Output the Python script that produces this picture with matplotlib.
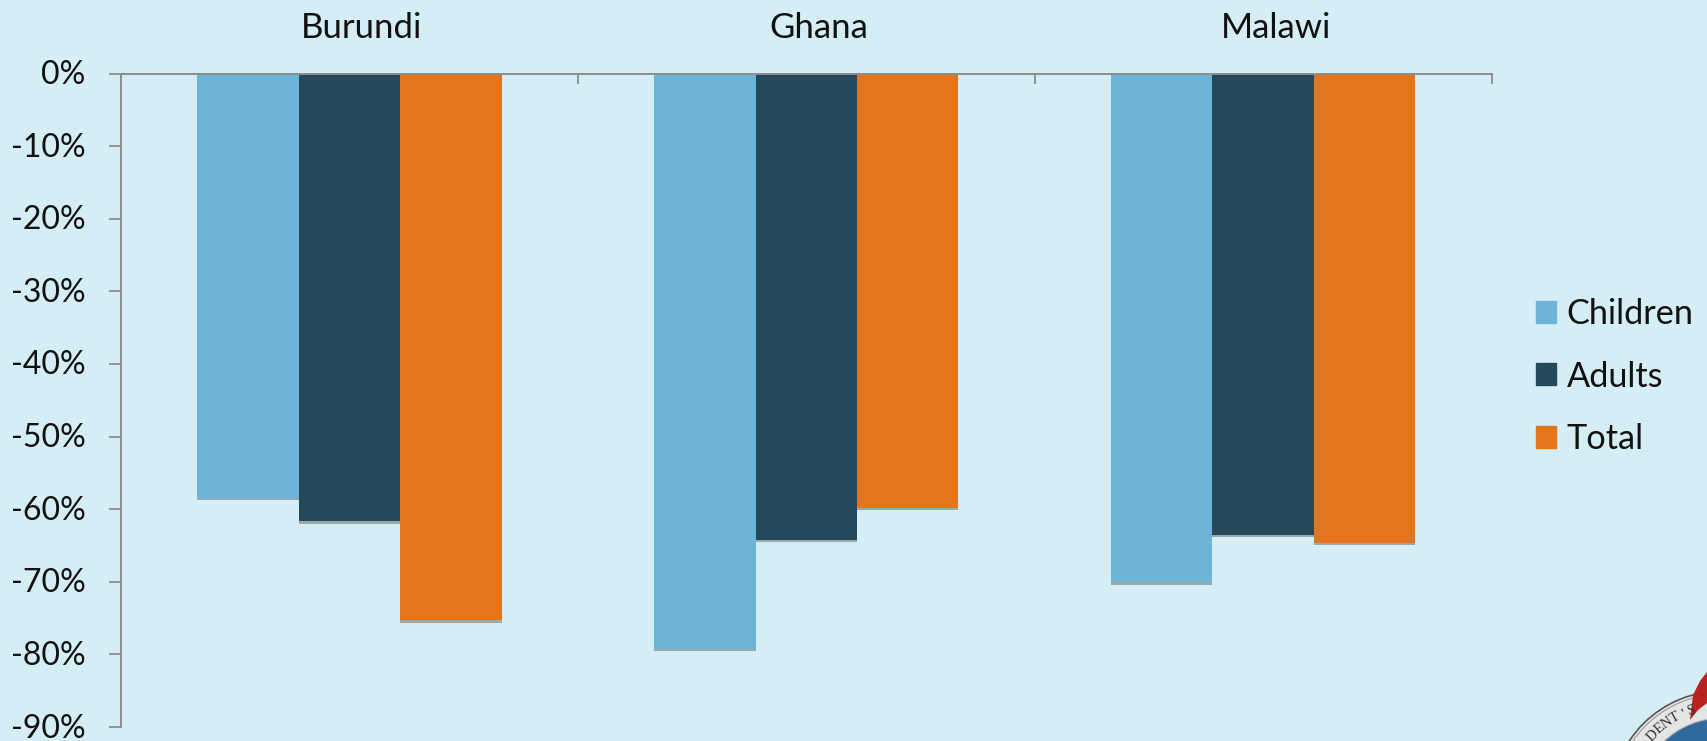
import matplotlib
matplotlib.use("Agg")
import matplotlib.pyplot as plt
import matplotlib.patheffects as pe
from matplotlib.patches import Circle, Polygon, Patch
from matplotlib.transforms import ScaledTranslation
import numpy as np

plt.rcParams['font.family'] = ['Lato', 'DejaVu Sans']

countries = ['Burundi', 'Ghana', 'Malawi']
children = [-58.4, -79.2, -70.0]
adults = [-61.6, -64.2, -63.5]
total = [-75.3, -59.8, -64.6]
series_names = ['Children', 'Adults', 'Total']
series_colors = ['#6DB5D8', '#24495A', '#E3751E']
yticks = [0, -10, -20, -30, -40, -50, -60, -70, -80, -90]

bg = '#D5EEF6'
axis_col = '#8C8C8C'
W, H = 1707, 741

fig = plt.figure(figsize=(W / 100, H / 100), dpi=100, facecolor=bg)
ax = fig.add_axes([121 / W, 1 - 727 / H, (1491.5 - 121) / W, (727 - 73.5) / H], facecolor='none')

x = np.arange(3)
w = 0.222
shadow = [pe.SimplePatchShadow(offset=(0, -2), alpha=0.45, shadow_rgbFace='#555555'), pe.Normal()]
for i, vals in enumerate([children, adults, total]):
    ax.bar(x + (i - 1) * w, vals, w, color=series_colors[i], path_effects=shadow, zorder=2)

ax.set_xlim(-0.5, 2.5)
ax.set_ylim(-90, 0)

# category labels sit above the zero line, a bit right of the group centre
ax.xaxis.tick_top()
ax.set_xticks(x)
ax.set_xticklabels(countries, fontsize=25, color='#111111')
ax.tick_params(axis='x', which='major', length=0, pad=21)
for t in ax.get_xticklabels():
    t.set_transform(t.get_transform() + ScaledTranslation(12.5 / 100, 0, fig.dpi_scale_trans))
ax.set_xticks(list(x[:-1] + 0.5) + [2.5], minor=True)
ax.tick_params(axis='x', which='minor', direction='in', length=7, width=1.3, color=axis_col)

ax.set_yticks(yticks)
ax.set_yticklabels([str(v) + '%' for v in yticks], fontsize=23, color='#111111')
ax.tick_params(axis='y', length=8.5, width=1.3, color=axis_col, pad=17)
for t in ax.get_yticklabels():
    t.set_transform(t.get_transform() + ScaledTranslation(0, 1.5 / 100, fig.dpi_scale_trans))

for s in ['right', 'bottom']:
    ax.spines[s].set_visible(False)
for s in ['top', 'left']:
    ax.spines[s].set_color(axis_col)
    ax.spines[s].set_linewidth(1.4)
    ax.spines[s].set_zorder(3)

handles = [Patch(color=c, label=n) for c, n in zip(series_colors, series_names)]
fig.legend(handles=handles, loc='upper left', bbox_to_anchor=(1535.5 / W, 1 - 298 / H),
           bbox_transform=fig.transFigure, frameon=False, fontsize=24.7,
           handlelength=0.61, handleheight=0.61, handletextpad=0.3,
           labelspacing=0.89, borderpad=0, borderaxespad=0, labelcolor='#111111')

# corner of the seal, runs off the page
ov = fig.add_axes([0, 0, 1, 1], facecolor='none')
ov.set_xlim(0, W)
ov.set_ylim(H, 0)
ov.axis('off')
cx, cy = 1722, 802
ov.add_patch(Circle((cx, cy), 111, fc='#E4E6E6', ec='#555555', lw=1.2))
ov.add_patch(Circle((cx, cy), 108, fc='none', ec='#9A9A9A', lw=0.8))
ov.add_patch(Circle((cx, cy), 84, fc='#2E6A9E', ec='#BBBBBB', lw=0.8))
ov.add_patch(Polygon([[1690, 720], [1693, 695], [1700, 681], [1707, 672], [1707, 703], [1698, 710]],
                     closed=True, fc='#B8231F', ec='none'))
for k, ch in enumerate("DENT'S"):
    ang = 46 - k * 5.6
    ov.text(cx - 96 * np.sin(np.radians(ang)), cy - 96 * np.cos(np.radians(ang)), ch, fontsize=10.5,
            rotation=ang, family='Liberation Serif', color='#333333', ha='center', va='center')

fig.savefig('out.png', dpi=100, facecolor=bg)
